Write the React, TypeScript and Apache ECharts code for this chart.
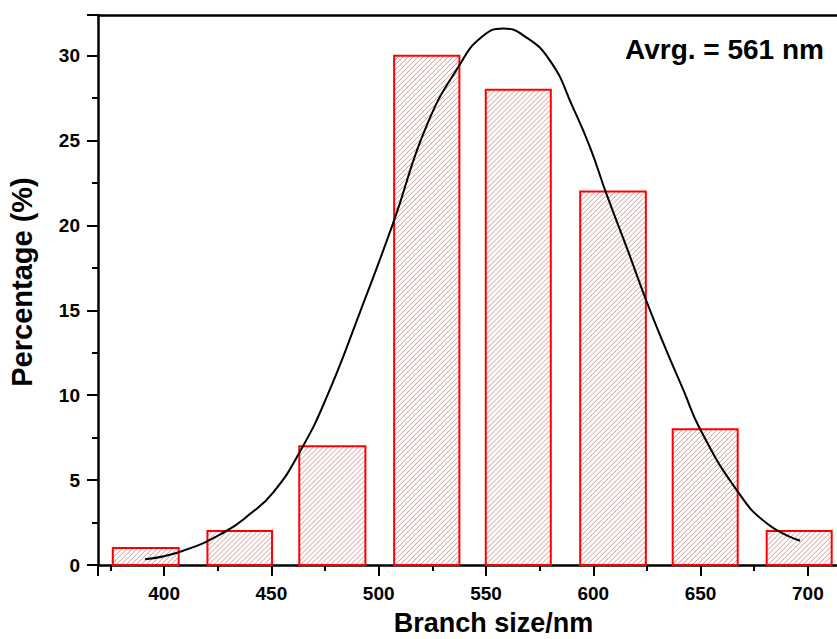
import React, { useEffect, useRef } from 'react';
import * as echarts from 'echarts';

// Histogram bins (nm) and percentages
const binStart = [376.1, 420.2, 463.0, 507.2, 549.9, 593.9, 637.0, 680.8];
const binEnd = [406.8, 450.3, 493.8, 537.6, 580.2, 624.5, 667.3, 711.1];
const percent = [1, 2, 7, 30, 28, 22, 8, 2];

// Fitted distribution curve
const fitX = [391.1, 407.5, 427.6, 440, 451, 463.4, 475.8, 491.3, 506.9, 522.4, 537.9, 548, 558, 567.4, 579.9, 590.7, 598.5, 606.3, 615.6, 624.9, 634.2, 642, 649.8, 666.9, 680.8, 696.4];
const fitY = [0.34, 0.78, 1.9, 3.0, 4.3, 6.7, 9.9, 14.9, 20.2, 25.9, 29.5, 31.1, 31.6, 31.2, 29.7, 26.9, 24.6, 21.8, 18.7, 15.5, 12.6, 10.3, 8.0, 4.4, 2.46, 1.43];

const xTicks = [400, 450, 500, 550, 600, 650, 700];
const yTicks = [0, 5, 10, 15, 20, 25, 30];

export default function App() {
  const ref = useRef<HTMLDivElement>(null);
  useEffect(() => {
    const chart = echarts.init(ref.current as HTMLDivElement, null, { renderer: 'svg' });
    const font = '"Liberation Sans", Arial, sans-serif';
    const black = '#000';
    chart.setOption({
      animation: false,
      backgroundColor: '#fff',
      grid: { left: 98, top: 15, right: 11, bottom: 74, containLabel: false, outerBoundsMode: 'none' },
      graphic: [
        {
          type: 'text',
          left: 625,
          top: 35,
          style: { text: 'Avrg. = 561 nm', font: 'bold 28px "Liberation Sans", Arial, sans-serif', fill: black },
        },
      ],
      xAxis: [
        {
          type: 'value',
          min: 369.2,
          max: 737.8,
          splitNumber: 7,
          position: 'bottom',
          name: 'Branch size/nm',
          nameLocation: 'middle',
          nameGap: 44,
          nameTextStyle: { fontSize: 27, fontWeight: 'bold', fontFamily: font, color: black },
          axisLine: { show: true, onZero: false, lineStyle: { color: black, width: 2.5 } },
          axisTick: { show: true, length: 11, lineStyle: { color: black, width: 2 } },
          minorTick: { show: true, splitNumber: 2, length: 6, lineStyle: { color: black, width: 2 } },
          axisLabel: {
            fontSize: 19,
            fontWeight: 'bold',
            fontFamily: font,
            color: black,
            margin: 19,
            showMinLabel: false,
            showMaxLabel: false,
            formatter: (v: number) => (xTicks.indexOf(v) >= 0 ? String(v) : ''),
          },
          splitLine: { show: false },
        },
        {
          type: 'value',
          min: 369.2,
          max: 737.8,
          position: 'top',
          axisLine: { show: true, onZero: false, lineStyle: { color: black, width: 2.5 } },
          axisTick: { show: false },
          axisLabel: { show: false },
          splitLine: { show: false },
        },
      ],
      yAxis: {
        type: 'value',
        min: 0,
        max: 32.4,
        name: 'Percentage (%)',
        nameLocation: 'middle',
        nameRotate: 90,
        nameGap: 62,
        nameTextStyle: { fontSize: 29, fontWeight: 'bold', fontFamily: font, color: black, padding: [0, 0, 0, 16] },
        axisLine: { show: true, onZero: false, lineStyle: { color: black, width: 2.5 } },
        axisTick: { show: true, length: 11, lineStyle: { color: black, width: 2 } },
        minorTick: { show: true, splitNumber: 2, length: 6, lineStyle: { color: black, width: 2 } },
        axisLabel: {
          fontSize: 19,
          fontWeight: 'bold',
          fontFamily: font,
          color: black,
          margin: 18,
          showMaxLabel: false,
          formatter: (v: number) => (yTicks.indexOf(v) >= 0 ? String(v) : ''),
        },
        splitLine: { show: false },
      },
      series: [
        {
          type: 'custom',
          xAxisIndex: 0,
          yAxisIndex: 0,
          data: percent.map((v, i) => [binStart[i], binEnd[i], v]),
          encode: { x: [0, 1], y: 2 },
          renderItem: (params: any, api: any) => {
            const s = api.value(0);
            const e = api.value(1);
            const v = api.value(2);
            const p0 = api.coord([s, v]);
            const p1 = api.coord([e, 0]);
            const x0 = p0[0], y0 = p0[1], x1 = p1[0], y1 = p1[1];
            const children: any[] = [];
            const step = 5;
            for (let c = x0 + y0 + step; c < x1 + y1; c += step) {
              const ax = Math.max(x0, c - y1);
              const bx = Math.min(x1, c - y0);
              if (bx > ax) {
                children.push({
                  type: 'line',
                  shape: { x1: ax, y1: c - ax, x2: bx, y2: c - bx },
                  style: { stroke: '#c88484', lineWidth: 0.85 },
                });
              }
            }
            children.push({
              type: 'rect',
              shape: { x: x0, y: y0, width: x1 - x0, height: y1 - y0 },
              style: { fill: 'none', stroke: '#ff0000', lineWidth: 2 },
            });
            return { type: 'group', children };
          },
          z: 2,
        },
        {
          type: 'line',
          xAxisIndex: 0,
          yAxisIndex: 0,
          data: fitX.map((x, i) => [x, fitY[i]]),
          smooth: 0.5,
          showSymbol: false,
          symbol: 'none',
          lineStyle: { color: black, width: 2 },
          z: 3,
        },
      ],
    });
    return () => chart.dispose();
  }, []);
  return (
    <div style={{ position: 'fixed', left: 0, top: 0, width: 837, height: 639, overflow: 'hidden', background: '#fff' }}>
      <div ref={ref} style={{ width: 900, height: 639 }} />
    </div>
  );
}
